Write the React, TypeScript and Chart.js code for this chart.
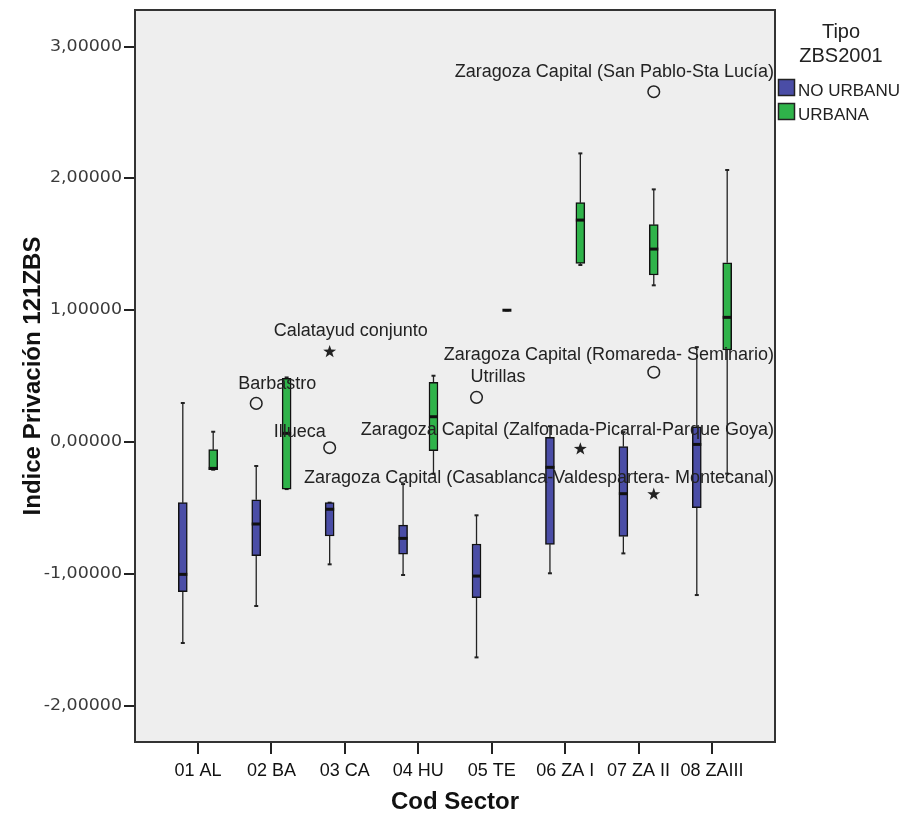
import { useEffect, useRef } from 'react';
import { Chart, registerables } from 'chart.js';

Chart.register(...registerables);

// ---- data ----
const categories = ['01 AL', '02 BA', '03 CA', '04 HU', '05 TE', '06 ZA I', '07 ZA II', '08 ZAIII'];
const groups = ['NO URBANU', 'URBANA'];
const yTickValues = [-2, -1, 0, 1, 2, 3];
const yAxisMin = -2.276;
const yAxisMax = 3.278;

// NO URBANU
const noUrbMin = [-1.525, -1.244, -0.928, -1.009, -1.634, -0.996, -0.845, -1.161];
const noUrbQ1 = [-1.136, -0.863, -0.713, -0.85, -1.181, -0.776, -0.716, -0.498];
const noUrbMedian = [-1.004, -0.622, -0.51, -0.731, -1.017, -0.192, -0.392, -0.018];
const noUrbQ3 = [-0.46, -0.438, -0.46, -0.63, -0.774, 0.035, -0.035, 0.116];
const noUrbMax = [0.296, -0.182, -0.46, -0.319, -0.556, 0.12, 0.075, 0.72];

// URBANA (null = no cases)
const urbMin = [-0.21, -0.357, null, -0.24, 1.0, 1.343, 1.189, -0.24];
const urbQ1 = [-0.21, -0.357, null, -0.066, 1.0, 1.356, 1.267, 0.698];
const urbMedian = [-0.2, 0.066, null, 0.192, 1.0, 1.684, 1.464, 0.946];
const urbQ3 = [-0.058, 0.483, null, 0.453, 1.0, 1.816, 1.649, 1.36];
const urbMax = [0.078, 0.49, null, 0.503, 1.0, 2.19, 1.917, 2.064];

// outliers
const outlierCategory = ['02 BA', '03 CA', '03 CA', '05 TE', '06 ZA I', '07 ZA II', '07 ZA II', '07 ZA II'];
const outlierGroup = ['NO URBANU', 'NO URBANU', 'NO URBANU', 'NO URBANU', 'URBANA', 'URBANA', 'URBANA', 'URBANA'];
const outlierValue = [0.293, -0.043, 0.685, 0.339, -0.053, 2.658, 0.53, -0.397];
const outlierShape = ['circle', 'circle', 'star', 'circle', 'star', 'circle', 'circle', 'star'];
const outlierLabel = [
  'Barbastro',
  'Illueca',
  'Calatayud conjunto',
  'Utrillas',
  'Zaragoza Capital (Zalfonada-Picarral-Parque Goya)',
  'Zaragoza Capital (San Pablo-Sta Lucía)',
  'Zaragoza Capital (Romareda- Seminario)',
  'Zaragoza Capital (Casablanca-Valdespartera- Montecanal)',
];

// ---- layout / style (not data) ----
const labelPlacement: { dx: number | null; dy: number }[] = [
  { dx: -18, dy: -19 },
  { dx: -56, dy: -16 },
  { dx: -56, dy: -21 },
  { dx: -6, dy: -20 },
  { dx: null, dy: -19 },
  { dx: null, dy: -20 },
  { dx: null, dy: -17 },
  { dx: null, dy: -16 },
];
const BLUE = '#4A4DA6';
const GREEN = '#2FB34A';
const GROUP_COLORS = [BLUE, GREEN];
const GROUP_OFFSET = 0.207;
const X_PAD = 0.858;
const BOX_W = 9;
const FONT = '"Liberation Sans", Arial, Helvetica, sans-serif';

const groupStats = [
  { min: noUrbMin, q1: noUrbQ1, med: noUrbMedian, q3: noUrbQ3, max: noUrbMax },
  { min: urbMin, q1: urbQ1, med: urbMedian, q3: urbQ3, max: urbMax },
];

function xFor(catIndex: number, groupIndex: number) {
  return catIndex + 1 + (groupIndex === 0 ? -GROUP_OFFSET : GROUP_OFFSET);
}

function fmtTick(v: number) {
  return v.toFixed(5).replace('.', ',');
}

function line(ctx: CanvasRenderingContext2D, x1: number, y1: number, x2: number, y2: number) {
  ctx.beginPath();
  ctx.moveTo(x1, y1);
  ctx.lineTo(x2, y2);
  ctx.stroke();
}

function star(ctx: CanvasRenderingContext2D, cx: number, cy: number, ro: number, ri: number) {
  ctx.beginPath();
  for (let k = 0; k < 10; k++) {
    const r = k % 2 === 0 ? ro : ri;
    const a = -Math.PI / 2 + (k * Math.PI) / 5;
    const px = cx + r * Math.cos(a);
    const py = cy + r * Math.sin(a);
    if (k === 0) ctx.moveTo(px, py);
    else ctx.lineTo(px, py);
  }
  ctx.closePath();
  ctx.fill();
}

const boxPlugin = {
  id: 'boxExtras',
  beforeDraw(chart: any) {
    const { ctx, chartArea: a } = chart;
    ctx.save();
    ctx.fillStyle = '#ffffff';
    ctx.fillRect(0, 0, chart.width, chart.height);
    ctx.fillStyle = '#EEEEEE';
    ctx.fillRect(a.left, a.top, a.right - a.left, a.bottom - a.top);
    ctx.restore();
  },
  beforeDatasetsDraw(chart: any) {
    const { ctx, scales } = chart;
    const xs = scales.x;
    const ys = scales.y;
    ctx.save();
    groupStats.forEach((g, gi) => {
      categories.forEach((_, i) => {
        if (g.q1[i] == null) return;
        const px = xs.getPixelForValue(xFor(i, gi));
        const yMin = ys.getPixelForValue(g.min[i] as number);
        const yQ1 = ys.getPixelForValue(g.q1[i] as number);
        const yQ3 = ys.getPixelForValue(g.q3[i] as number);
        const yMax = ys.getPixelForValue(g.max[i] as number);
        ctx.strokeStyle = '#222';
        ctx.lineWidth = 1.3;
        if (yMax < yQ3) line(ctx, px, yMax, px, yQ3);
        if (yMin > yQ1) line(ctx, px, yQ1, px, yMin);
        ctx.lineWidth = 2;
        line(ctx, px - 2, yMax, px + 2, yMax);
        line(ctx, px - 2, yMin, px + 2, yMin);
      });
    });
    ctx.restore();
  },
  afterDatasetsDraw(chart: any) {
    const { ctx, scales, chartArea: a } = chart;
    const xs = scales.x;
    const ys = scales.y;
    ctx.save();
    // medians
    groupStats.forEach((g, gi) => {
      categories.forEach((_, i) => {
        if (g.med[i] == null) return;
        const px = xs.getPixelForValue(xFor(i, gi));
        const py = ys.getPixelForValue(g.med[i] as number);
        ctx.strokeStyle = '#111';
        ctx.lineWidth = 3;
        line(ctx, px - BOX_W / 2, py, px + BOX_W / 2, py);
      });
    });
    // outliers
    outlierValue.forEach((v, k) => {
      const ci = categories.indexOf(outlierCategory[k]);
      const gi = groups.indexOf(outlierGroup[k]);
      const px = xs.getPixelForValue(xFor(ci, gi));
      const py = ys.getPixelForValue(v);
      if (outlierShape[k] === 'circle') {
        ctx.strokeStyle = '#222';
        ctx.lineWidth = 1.5;
        ctx.beginPath();
        ctx.arc(px, py, 5.8, 0, Math.PI * 2);
        ctx.stroke();
      } else {
        ctx.fillStyle = '#222';
        star(ctx, px, py, 6.8, 2.7);
      }
      // label
      ctx.font = '18px ' + FONT;
      ctx.fillStyle = '#222';
      ctx.textBaseline = 'middle';
      const lp = labelPlacement[k];
      if (lp.dx == null) {
        ctx.textAlign = 'right';
        ctx.fillText(outlierLabel[k], a.right - 1, py + lp.dy);
      } else {
        ctx.textAlign = 'left';
        ctx.fillText(outlierLabel[k], px + lp.dx, py + lp.dy);
      }
    });
    // frame
    ctx.strokeStyle = '#333';
    ctx.lineWidth = 2;
    ctx.strokeRect(a.left, a.top, a.right - a.left, a.bottom - a.top);
    ctx.restore();
  },
  afterDraw(chart: any) {
    const { ctx, scales, chartArea: a } = chart;
    const ys = scales.y;
    ctx.save();
    // y tick labels (wide face)
    ctx.font = '15px "DejaVu Sans", ' + FONT;
    ctx.fillStyle = '#3a3a3a';
    ctx.textBaseline = 'middle';
    ctx.textAlign = 'right';
    const sx = 72 / ctx.measureText('3,00000').width;
    for (const t of ys.ticks) {
      const py = ys.getPixelForValue(t.value);
      ctx.save();
      ctx.translate(a.left - 13, py);
      ctx.scale(sx, 1);
      ctx.fillText(fmtTick(t.value), 0, 0);
      ctx.restore();
    }
    // legend
    ctx.fillStyle = '#222';
    ctx.textAlign = 'center';
    ctx.textBaseline = 'alphabetic';
    ctx.font = '20px ' + FONT;
    ctx.fillText('Tipo', 841, 38);
    ctx.fillText('ZBS2001', 841, 62);
    groups.forEach((gname, gi) => {
      const top = 79.5 + gi * 24;
      ctx.fillStyle = GROUP_COLORS[gi];
      ctx.fillRect(778.5, top, 16, 16);
      ctx.strokeStyle = '#222';
      ctx.lineWidth = 1.5;
      ctx.strokeRect(778.5, top, 16, 16);
      ctx.fillStyle = '#222';
      ctx.textAlign = 'left';
      ctx.font = '17px ' + FONT;
      ctx.fillText(gname, 798, top + 16.5);
    });
    ctx.restore();
  },
};

export default function App() {
  const ref = useRef<HTMLCanvasElement>(null);

  useEffect(() => {
    const canvas = ref.current;
    if (!canvas) return;

    const datasets = groupStats.map((g, gi) => ({
      label: groups[gi],
      data: categories
        .map((_, i) => (g.q1[i] == null ? null : { x: xFor(i, gi), y: [g.q1[i], g.q3[i]] }))
        .filter((d) => d !== null),
      backgroundColor: GROUP_COLORS[gi],
      borderColor: '#111',
      borderWidth: 1.5,
      borderSkipped: false,
      barThickness: BOX_W,
      grouped: false,
    }));

    const chart = new Chart(canvas, {
      type: 'bar',
      data: { datasets: datasets as any },
      plugins: [boxPlugin],
      options: {
        responsive: false,
        maintainAspectRatio: false,
        animation: false,
        layout: { padding: { left: 0, right: 133, top: 10, bottom: 0 } },
        plugins: {
          legend: { display: false },
          tooltip: { enabled: false },
        },
        scales: {
          x: {
            type: 'linear',
            offset: false,
            min: 1 - X_PAD,
            max: categories.length + X_PAD,
            afterBuildTicks: (scale: any) => {
              scale.ticks = categories.map((_, i) => ({ value: i + 1 }));
            },
            afterFit: (scale: any) => {
              scale.height = 76;
            },
            ticks: {
              autoSkip: false,
              maxRotation: 0,
              padding: 6,
              color: '#111',
              font: { family: FONT, size: 18 },
              callback: (v: any) => categories[Math.round(Number(v)) - 1] ?? '',
            },
            grid: {
              offset: false,
              drawOnChartArea: false,
              drawTicks: true,
              tickLength: 12,
              color: '#222',
              lineWidth: 2,
            },
            border: { display: false },
            title: {
              display: true,
              text: 'Cod Sector',
              color: '#111',
              font: { family: FONT, size: 24, weight: 'bold' },
              padding: { top: 0, bottom: 1 },
            },
          },
          y: {
            type: 'linear',
            min: yAxisMin,
            max: yAxisMax,
            afterBuildTicks: (scale: any) => {
              scale.ticks = yTickValues.map((v) => ({ value: v }));
            },
            afterFit: (scale: any) => {
              scale.width = 135;
            },
            ticks: { display: false },
            grid: { drawOnChartArea: false, drawTicks: true, tickLength: 11, color: '#222', lineWidth: 2 },
            border: { display: false },
            title: {
              display: true,
              text: 'Indice Privación 121ZBS',
              color: '#111',
              font: { family: FONT, size: 24, weight: 'bold' },
              padding: { top: 19, bottom: 0 },
            },
          },
        },
      } as any,
    });

    return () => chart.destroy();
  }, []);

  return (
    <div style={{ position: 'absolute', left: 0, top: 0, width: 908, height: 818, background: '#fff' }}>
      <canvas ref={ref} width={908} height={818} style={{ display: 'block', width: 908, height: 818 }} />
    </div>
  );
}
